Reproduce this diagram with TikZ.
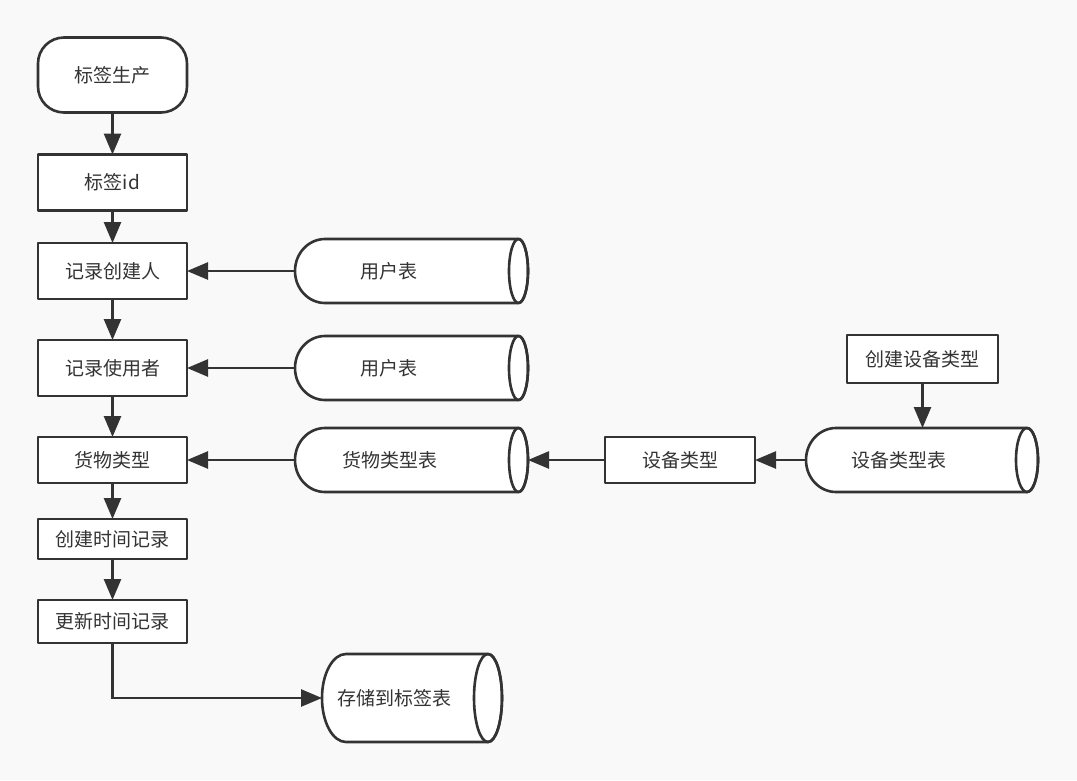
\documentclass[tikz,border=0pt]{standalone}
\usepackage{fontspec}
\newfontfamily\cjk{Noto Sans CJK SC}
\usetikzlibrary{arrows.meta}
\definecolor{bgc}{RGB}{249,249,249}
\definecolor{inkc}{RGB}{51,51,51}

% data-store cylinder lying on its side:
% #1 name, #2 left, #3 right, #4 top, #5 bottom, #6 left bulge, #7 end-cap radius, #8 label x, #9 label
\newcommand{\dbcyl}[9]{%
  \pgfmathsetmacro\cyM{(#4+#5)/2}%
  \pgfmathsetmacro\cyH{(#5-#4)/2}%
  \pgfmathsetmacro\cyE{#3-#7}%
  \pgfmathsetmacro\cyX{(#2+#3)/2}%
  \pgfmathsetmacro\cyW{#3-#2}%
  \pgfmathsetmacro\cyHH{#5-#4}%
  \draw[shapeline, fill=white] (\cyE,#4) -- ({#2+#6},#4)
    arc[start angle=-90, end angle=-270, x radius=#6, y radius=\cyH]
    -- (\cyE,#5)
    arc[start angle=90, end angle=-90, x radius=#7, y radius=\cyH] -- cycle;
  \draw[shapeline] (\cyE,\cyM) ellipse[x radius=#7, y radius=\cyH];
  \node[shape=rectangle, minimum width=\cyW pt, minimum height=\cyHH pt,
        inner sep=0pt, outer sep=0pt] (#1) at (\cyX,\cyM) {};
  \node[txt] at (#8,\cyM) {#9};
}

\tikzset{
  shapeline/.style={draw=inkc, line width=2.6pt, line join=round},
  txt/.style={font=\cjk\fontsize{19}{23}\selectfont, text=inkc, inner sep=0pt},
  box/.style={shapeline, fill=white, minimum width=149pt, inner sep=0pt, outer sep=0pt,
              font=\cjk\fontsize{19}{23}\selectfont, text=inkc},
  arr/.style={draw=inkc, line width=2.6pt, -{Triangle[length=21pt, width=17pt]}},
}

\begin{document}
\begin{tikzpicture}[x=1pt, y=-1pt]
  \fill[bgc] (0,0) rectangle (1077,780);
  \useasboundingbox (0,0) rectangle (1077,780);

  % main column
  \node[box, rounded corners=26pt, minimum height=75pt] (start) at (112.5,75) {标签生产};
  \node[box, minimum height=56pt] (tagid) at (112.5,182.5) {标签id};
  \node[box, minimum height=56pt] (creator) at (112.5,271) {记录创建人};
  \node[box, minimum height=56pt] (user) at (112.5,368) {记录使用者};
  \node[box, minimum height=46pt] (goods) at (112.5,460) {货物类型};
  \node[box, minimum height=40pt] (ctime) at (112.5,539) {创建时间记录};
  \node[box, minimum height=43pt] (utime) at (112.5,621.5) {更新时间记录};

  % device branch
  \node[box, minimum width=150pt, minimum height=46pt] (devtype) at (680,460) {设备类型};
  \node[box, minimum width=151pt, minimum height=48pt] (newdev) at (922.5,359) {创建设备类型};

  % data stores
  \dbcyl{users1}{295}{528}{239}{303}{30}{9.5}{389}{用户表}
  \dbcyl{users2}{295}{528}{336}{400}{30}{9.5}{389}{用户表}
  \dbcyl{goodstab}{295}{528}{428}{492}{30}{9.5}{390}{货物类型表}
  \dbcyl{devtab}{806}{1038}{428}{492}{30}{11}{899}{设备类型表}
  \dbcyl{tagtab}{322}{502}{654}{742}{24}{14}{394}{存储到标签表}

  % connectors
  \draw[arr] (start) -- (tagid);
  \draw[arr] (tagid) -- (creator);
  \draw[arr] (creator) -- (user);
  \draw[arr] (user) -- (goods);
  \draw[arr] (goods) -- (ctime);
  \draw[arr] (ctime) -- (utime);
  \draw[arr] (users1) -- (creator);
  \draw[arr] (users2) -- (user);
  \draw[arr] (goodstab) -- (goods);
  \draw[arr] (devtype) -- (goodstab);
  \draw[arr] (devtab) -- (devtype);
  \draw[arr] (newdev.south) -- (newdev.south |- devtab.north);
  \draw[arr] (utime.south) |- (tagtab.west);
\end{tikzpicture}
\end{document}
